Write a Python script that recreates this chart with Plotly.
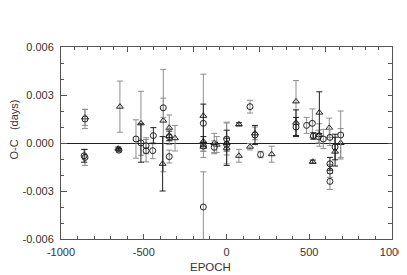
import plotly.graph_objects as go

# Triangles: epoch, O-C, error, bar colour group
tri_epoch = [-855, -654, -644, -517, -382, -386, -346, -346, -311, -140, -140, -140, -74, -59, 1, 1, 75, 75, 142, 172, 273, 420, 420, 521, 561, 561, 621, 656, 690]
tri_oc    = [0.0016, -0.00035, 0.00227, 0.00123, 0.0014, -0.0013, 0.00095, 0.00044, 0.0003, 0.0017, 0.0001, -0.00023, 0.0, -0.0001, 0.0, -0.0003, 0.00117, -0.0008, -0.00023, 0.0006, -0.0007, 0.0026, 0.00127, -0.00117, 0.0019, 0.0005, 0.00095, -0.00054, 0.0]
tri_err   = [0.0005, 0.0001, 0.0016, 0.0020, 0.0032, 0.0017, 0.0008, 0.0003, 0.0008, 0.0026, 0.0003, 0.0003, 0.0006, 0.0005, 0.0013, 0.0011, 0.0001, 0.0004, 0.0002, 0.0004, 0.0005, 0.0013, 0.0008, 0.0001, 0.0013, 0.0007, 0.0006, 0.0009, 0.0009]
tri_dark  = [0, 1, 0, 0, 0, 1, 0, 1, 0, 0, 1, 0, 0, 0, 0, 1, 1, 0, 0, 0, 0, 0, 1, 1, 1, 0, 0, 1, 0]

# Circles
cir_epoch = [-855, -855, -860, -650, -547, -517, -486, -486, -446, -442, -382, -346, -346, -140, -140, -140, -74, 1, 1, 142, 172, 206, 420, 484, 519, 525, 555, 585, 625, 625, 625, 625, 656, 690]
cir_oc    = [0.0015, -0.0009, -0.0008, -0.00045, 0.00025, 0.0, -0.00017, -0.00048, -0.00048, 0.00046, 0.0022, -0.00085, 0.0004, 0.00123, -0.0002, -0.004, -0.00027, 0.00025, -0.0001, 0.00227, 0.0005, -0.00072, 0.001, 0.0011, 0.00123, 0.00044, 0.0004, 0.00025, 0.00035, -0.0013, -0.00175, -0.0024, -0.00025, 0.0005]
cir_err   = [0.0006, 0.0005, 0.0004, 0.0001, 0.0012, 0.0012, 0.0005, 0.0007, 0.0005, 0.0005, 0.0006, 0.0004, 0.0005, 0.0012, 0.0003, 0.0022, 0.0004, 0.0010, 0.0004, 0.0004, 0.0006, 0.0002, 0.0006, 0.0005, 0.0009, 0.0002, 0.0004, 0.0006, 0.0005, 0.0004, 0.0004, 0.0005, 0.0008, 0.0015]
cir_dark  = [0, 0, 1, 1, 0, 1, 0, 0, 0, 1, 0, 0, 0, 1, 0, 0, 0, 0, 1, 0, 1, 0, 1, 0, 0, 1, 0, 0, 0, 1, 0, 0, 1, 0]

x_ticks = [-1000, -500, 0, 500, 1000]
x_ticktext = ["-1000", "-500", "0", "500", "1000"]
y_ticks = [-0.006, -0.003, 0.0, 0.003, 0.006]
y_ticktext = ["-0.006", "-0.003", "0.000", "0.003", "0.006"]

GRAY = "#8e8e8e"
DARK = "#1e1e1e"
FONT = "Liberation Sans, Arial, sans-serif"

fig = go.Figure()

def add_group(ex, oc, er, dk, symbol, want_dark):
    xs = [e for e, d in zip(ex, dk) if d == want_dark]
    ys = [o for o, d in zip(oc, dk) if d == want_dark]
    es = [r for r, d in zip(er, dk) if d == want_dark]
    fig.add_trace(go.Scatter(
        x=xs, y=ys, mode="markers",
        marker=dict(symbol=symbol, size=6, color="#222222",
                    line=dict(color="#222222", width=1)),
        error_y=dict(type="data", array=es, visible=True,
                     color=DARK if want_dark else GRAY, thickness=1, width=3),
        showlegend=False, hoverinfo="skip"))

add_group(tri_epoch, tri_oc, tri_err, tri_dark, "triangle-up-open", 0)
add_group(cir_epoch, cir_oc, cir_err, cir_dark, "circle-open", 0)
add_group(tri_epoch, tri_oc, tri_err, tri_dark, "triangle-up-open", 1)
add_group(cir_epoch, cir_oc, cir_err, cir_dark, "circle-open", 1)

# empty trace to activate the mirror axes (top / right)
fig.add_trace(go.Scatter(x=[], y=[], xaxis="x2", yaxis="y2", showlegend=False))

axcol = "#555555"
# page body has an 8px default margin, so the figure is sized/offset to compensate
fig.update_layout(
    width=399, height=267,
    margin=dict(l=53, r=15, t=39, b=36, autoexpand=False),
    paper_bgcolor="white", plot_bgcolor="white",
    font=dict(family=FONT, size=11, color="#333333"),
    showlegend=False,
    xaxis=dict(range=[-1000, 1000], tickmode="array", tickvals=x_ticks, ticktext=x_ticktext,
               ticks="inside", ticklen=5, tickcolor=axcol, tickwidth=1, automargin=False,
               ticklabelstandoff=3,
               showline=True, linecolor=axcol, linewidth=1, showgrid=False, zeroline=False,
               minor=dict(dtick=100, tick0=-1000, ticks="inside", ticklen=3, tickcolor=axcol, showgrid=False),
               tickfont=dict(size=11, color="#333333")),
    yaxis=dict(range=[-0.006, 0.006], tickmode="array", tickvals=y_ticks, ticktext=y_ticktext,
               ticks="inside", ticklen=6, tickcolor=axcol, tickwidth=1, automargin=False,
               ticklabelstandoff=4,
               showline=True, linecolor=axcol, linewidth=1, showgrid=False,
               zeroline=True, zerolinecolor="#222222", zerolinewidth=1,
               minor=dict(dtick=0.001, tick0=0, ticks="inside", ticklen=3, tickcolor=axcol, showgrid=False),
               tickfont=dict(size=11, color="#333333")),
    xaxis2=dict(overlaying="x", side="top", range=[-1000, 1000], tick0=-1000, dtick=400,
                ticks="inside", ticklen=5, tickcolor=axcol, showticklabels=False, automargin=False,
                showline=True, linecolor=axcol, linewidth=1, showgrid=False, zeroline=False,
                minor=dict(dtick=80, tick0=-1000, ticks="inside", ticklen=3, tickcolor=axcol, showgrid=False)),
    yaxis2=dict(overlaying="y", side="right", range=[-0.006, 0.006], tick0=0, dtick=0.001,
                ticks="inside", ticklen=4, tickcolor=axcol, showticklabels=False, automargin=False,
                showline=True, linecolor=axcol, linewidth=1, showgrid=False, zeroline=False),
    annotations=[
        dict(text="EPOCH", xref="paper", yref="paper", x=0.453, y=-0.148,
             xanchor="center", yanchor="middle", showarrow=False,
             font=dict(family=FONT, size=11.5, color="#333333")),
        dict(text="O-C   (days)", xref="paper", yref="paper", x=-0.1435, y=0.568,
             xanchor="center", yanchor="middle", textangle=-90, showarrow=False,
             font=dict(family=FONT, size=11, color="#333333")),
    ],
)

fig.write_html("out.html")
